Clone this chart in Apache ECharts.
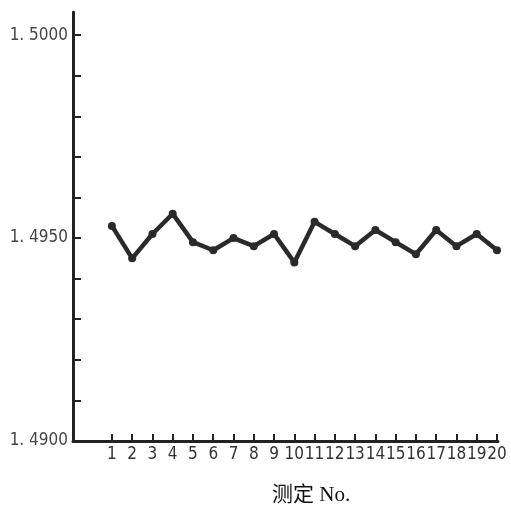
<!DOCTYPE html>
<html>
<head>
<meta charset="utf-8">
<script src="https://cdn.jsdelivr.net/npm/echarts@6/dist/echarts.min.js"></script>
<style>
  html, body { margin: 0; padding: 0; background: #fff; }
  #wrap { width: 511px; height: 507px; }
</style>
</head>
<body>
<div id="wrap"></div>
<script>
// measurement number and measured value
var nos = [1, 2, 3, 4, 5, 6, 7, 8, 9, 10, 11, 12, 13, 14, 15, 16, 17, 18, 19, 20];
var vals = [1.4953, 1.4945, 1.4951, 1.4956, 1.4949, 1.4947, 1.4950, 1.4948, 1.4951, 1.4944,
            1.4954, 1.4951, 1.4948, 1.4952, 1.4949, 1.4946, 1.4952, 1.4948, 1.4951, 1.4947];
var yTicks = [1.490, 1.491, 1.492, 1.493, 1.494, 1.495, 1.496, 1.497, 1.498, 1.499, 1.500];
var yLabels = [1.490, 1.495, 1.500];

var myChart = echarts.init(document.getElementById('wrap'));
var pts = [];
nos.forEach(function(n, i) {
    pts.push([n, vals[i]]);
});
var axisFont = 'DejaVu Sans Condensed';
var option = {
    animation: false,
    title: {
        text: '测定 No.',
        left: 267,
        top: 480,
        textStyle: {
            fontFamily: '"Liberation Serif", "Noto Sans CJK SC"',
            fontSize: 21,
            fontWeight: 'normal',
            color: '#111'
        }
    },
    grid: { left: 73, top: 12, right: 13, bottom: 66, containLabel: false, outerBoundsMode: 'none' },
    xAxis: {
        type: 'value',
        min: -0.92,
        max: 20.05,
        splitLine: { show: false },
        axisLine: { onZero: false, lineStyle: { color: '#222', width: 3 } },
        axisTick: {
            inside: true,
            length: 7,
            customValues: nos,
            lineStyle: { color: '#222', width: 2 }
        },
        axisLabel: {
            customValues: nos,
            hideOverlap: false,
            showMinLabel: true,
            showMaxLabel: true,
            margin: 5,
            color: '#333',
            fontSize: 17,
            fontFamily: axisFont,
            formatter: function(v) { return String(v); }
        }
    },
    yAxis: {
        type: 'value',
        min: 1.490,
        max: 1.50057,
        splitLine: { show: false },
        axisLine: { onZero: false, lineStyle: { color: '#222', width: 3 } },
        axisTick: {
            inside: true,
            length: 8,
            customValues: yTicks,
            lineStyle: { color: '#222', width: 2 }
        },
        axisLabel: {
            customValues: yLabels,
            hideOverlap: false,
            margin: 5,
            color: '#444',
            fontSize: 17,
            fontFamily: axisFont,
            formatter: function(v) { return '1. ' + v.toFixed(4).split('.')[1]; }
        }
    },
    series: [{
        type: 'line',
        data: pts,
        symbol: 'circle',
        symbolSize: 8,
        lineStyle: { color: '#2a2a2a', width: 4.5 },
        itemStyle: { color: '#2a2a2a' }
    }]
};
myChart.setOption(option);
</script>
</body>
</html>
